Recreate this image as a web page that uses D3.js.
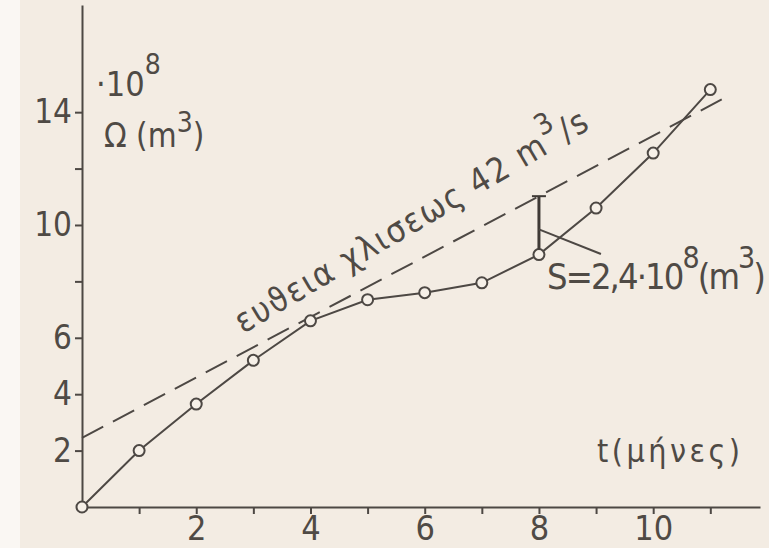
<!DOCTYPE html>
<html lang="el">
<head>
<meta charset="UTF-8">
<title>Ω(t)</title>
<script src="https://cdn.jsdelivr.net/npm/d3@7"></script>
<style>
  body { margin: 0; background: #f3ece3; }
  svg { display: block; }
  text { font-family: "Liberation Sans Narrow", "DejaVu Sans Condensed", "Liberation Sans", sans-serif; fill: #4f4a45; }
</style>
</head>
<body>
<div id="graphDiv"></div>
<script>
// months and cumulative volume Ω (in 10^8 m3)
var months = [0, 1, 2, 3, 4, 5, 6, 7, 8, 9, 10, 11]
var volume = [0, 2.0, 3.65, 5.2, 6.6, 7.35, 7.6, 7.95, 8.95, 10.6, 12.55, 14.8]

// dashed line of slope 42 m3/s (start / end)
var lineMonths = [0, 11.2]
var lineVolume = [2.45, 14.45]

// month where S is measured
var sMonth = 8

var xTicks = [1, 2, 3, 4, 5, 6, 7, 8, 9, 10, 11]
var xTickLabels = ["", "2", "", "4", "", "6", "", "8", "", "10", ""]
var yTicks = [2, 4, 6, 8, 10, 12, 14]
var yTickLabels = ["2", "4", "6", "", "10", "", "14"]

var width = 769, height = 548
var ink = "#4d4844"

var svg = d3.select("#graphDiv").append("svg")
    .attr("width", width).attr("height", height)

// scan background, lighter strip at the left edge
svg.append("rect").attr("width", width).attr("height", height).attr("fill", "#f3ece3")
svg.append("rect").attr("width", 20).attr("height", height).attr("fill", "#faf7f3")

var x = d3.scaleLinear().domain([0, 11.87]).range([82, 760])
var y = d3.scaleLinear().domain([0, 17.8]).range([507, 5])

// axes
var xAxis = d3.axisBottom(x).tickValues(xTicks).tickSize(7).tickSizeOuter(0)
    .tickFormat((d, i) => xTickLabels[i])
var yAxis = d3.axisLeft(y).tickValues(yTicks).tickSize(7).tickSizeOuter(0)
    .tickFormat((d, i) => yTickLabels[i])

var gx = svg.append("g").attr("transform", `translate(0,${y(0)})`).call(xAxis)
var gy = svg.append("g").attr("transform", `translate(${x(0)},0)`).call(yAxis)

gx.selectAll("path, line").attr("stroke", ink).attr("stroke-width", 2)
gy.selectAll("path, line").attr("stroke", ink).attr("stroke-width", 2)
gx.selectAll("text").attr("font-size", 34).attr("dy", "0.72em").attr("y", 9)
    .attr("font-family", null).attr("fill", ink)
gy.selectAll("text").attr("font-size", 33).attr("x", -10)
    .attr("font-family", null).attr("fill", ink)

// dashed line
var lineData = lineMonths.map((t, i) => ({ t: t, v: lineVolume[i] }))
svg.append("path")
    .datum(lineData)
    .attr("d", d3.line().x(d => x(d.t)).y(d => y(d.v)))
    .attr("fill", "none").attr("stroke", ink).attr("stroke-width", 2)
    .attr("stroke-dasharray", "24,11")

// curve with open circles
var pts = months.map((t, i) => ({ t: t, v: volume[i] }))
svg.append("path")
    .datum(pts)
    .attr("d", d3.line().x(d => x(d.t)).y(d => y(d.v)))
    .attr("fill", "none").attr("stroke", ink).attr("stroke-width", 2)

svg.selectAll(".pt").data(pts).enter().append("circle")
    .attr("class", "pt")
    .attr("cx", d => x(d.t)).attr("cy", d => y(d.v))
    .attr("r", 5.5)
    .attr("fill", "#f6f0e8").attr("stroke", ink).attr("stroke-width", 2)

// S: gap between curve and dashed line at sMonth
var sLow = volume[months.indexOf(sMonth)]
var sHigh = lineVolume[0] + (lineVolume[1] - lineVolume[0]) * (sMonth - lineMonths[0]) / (lineMonths[1] - lineMonths[0])
svg.append("line")
    .attr("x1", x(sMonth)).attr("x2", x(sMonth))
    .attr("y1", y(sLow) - 5).attr("y2", y(sHigh))
    .attr("stroke", "#3f3a36").attr("stroke-width", 3)
svg.append("line")
    .attr("x1", x(sMonth) - 7).attr("x2", x(sMonth) + 7)
    .attr("y1", y(sHigh)).attr("y2", y(sHigh))
    .attr("stroke", "#3f3a36").attr("stroke-width", 2)
svg.append("line")
    .attr("x1", x(sMonth)).attr("y1", y((sLow + sHigh) / 2) + 4)
    .attr("x2", x(sMonth) + 62).attr("y2", 254)
    .attr("stroke", ink).attr("stroke-width", 2)

// labels
var t1 = svg.append("text").attr("x", 96).attr("y", 96).attr("font-size", 34)
t1.append("tspan").text("·10")
t1.append("tspan").attr("dy", -22).attr("font-size", 28).text("8")

var t2 = svg.append("text").attr("x", 104).attr("y", 147).attr("font-size", 33)
t2.append("tspan").text("Ω (m")
t2.append("tspan").attr("dy", -15).attr("font-size", 28).text("3")
t2.append("tspan").attr("dy", 15).text(")")

svg.append("text").attr("x", 597).attr("y", 462).attr("font-size", 32)
    .attr("textLength", 143).attr("lengthAdjust", "spacing")
    .text("t(μήνες)")

var t3 = svg.append("text").attr("x", 547).attr("y", 289).attr("font-size", 36)
    .attr("textLength", 219).attr("lengthAdjust", "spacing")
t3.append("tspan").text("S=2,4·10")
t3.append("tspan").attr("dy", -21).attr("font-size", 30).text("8")
t3.append("tspan").attr("dy", 21).text("(m")
t3.append("tspan").attr("dy", -21).attr("font-size", 30).text("3")
t3.append("tspan").attr("dy", 21).text(")")

var t4 = svg.append("text")
    .attr("transform", "translate(243,334) rotate(-30.6)")
    .attr("font-size", 34)
    .attr("textLength", 404).attr("lengthAdjust", "spacing")
t4.append("tspan").text("ευϑεια χλισεως 42 m")
t4.append("tspan").attr("dy", -18).attr("font-size", 29).text("3")
t4.append("tspan").attr("dy", 18).text("/s")
</script>
</body>
</html>
